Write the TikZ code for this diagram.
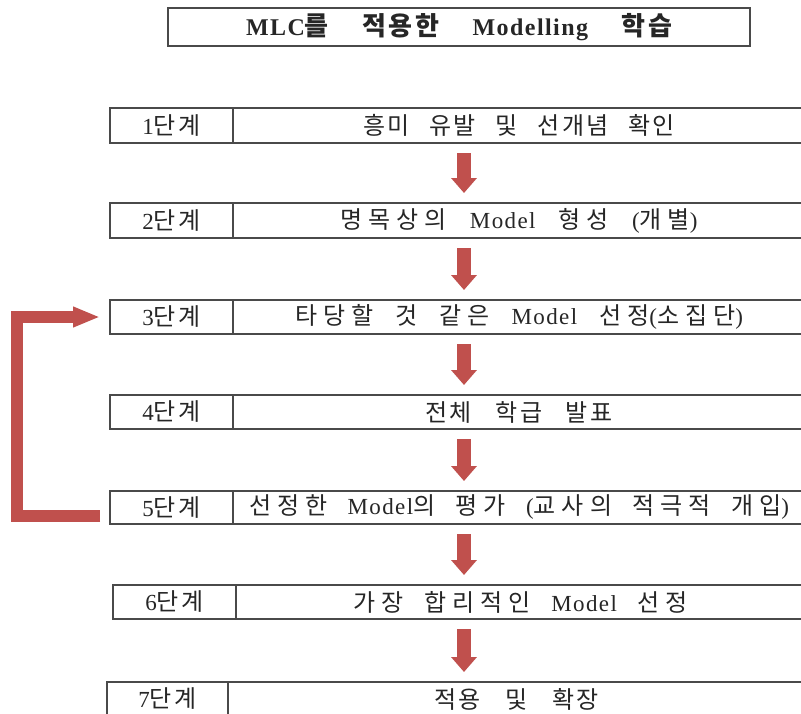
\documentclass[tikz,border=0pt]{standalone}
\usepackage{fontspec}
\setmainfont{Liberation Serif}[LetterSpace=6]
\newfontfamily\krfont{Noto Sans CJK KR}[LetterSpace=10]
\newfontfamily\krwide{Noto Sans CJK KR}[LetterSpace=25]
\def\krsz{24}
\newcommand{\K}[1]{{\krfont\fontsize{\krsz}{27}\selectfont #1}}
\newcommand{\W}[1]{{\krwide\fontsize{\krsz}{27}\selectfont #1}}
\newcommand{\spread}[2]{\spaceskip=12pt plus 80pt\relax\makebox[#1][s]{#2}}
\usetikzlibrary{arrows.meta,calc}
\definecolor{accred}{HTML}{C0504D}
\definecolor{boxline}{HTML}{4A4A4A}
\tikzset{
  stagebox/.style={draw=boxline, line width=1.2pt, inner sep=0pt, outer sep=0pt,
    anchor=north west, text=black!85,
    font=\fontsize{23}{26}\selectfont},
  downarrow/.style={draw=accred, line width=14pt,
    -{Triangle[length=15pt,width=25pt]}, shorten <=10pt, shorten >=10pt},
  looparrow/.style={draw=accred, line width=12pt, line join=miter,
    -{Triangle[length=27pt,width=19pt]}},
}
% #1 id, #2 left, #3 divider, #4 top, #5 bottom, #6 label, #7 text width, #8 text
\newcommand{\stage}[8]{%
  \node[stagebox, minimum width={#3-#2}, minimum height={#5-#4}] (l#1) at (#2,#4) {#6};
  \node[stagebox, minimum width={805-#3}, minimum height={#5-#4}] (s#1) at (#3,#4) {\spread{#7}{#8}};}
\begin{document}
\begin{tikzpicture}[x=1pt,y=-1pt]
\useasboundingbox[fill=white] (0,0) rectangle (801,713);
% title
\node[stagebox, minimum width=582pt, minimum height=38pt,
  font=\bfseries\fontsize{24}{27}\selectfont] (title) at (168,8)
  {\def\krsz{26}\spread{426pt}{MLC\K{를} \K{적용한} Modelling \K{학습}}};
\stage{1}{110}{233}{108}{143}{1\K{단계}}{312pt}{\K{흥미 유발 및 선개념 확인}}
\stage{2}{110}{233}{203}{238}{2\K{단계}}{357pt}{\W{명목상의} Model \W{형성} (\W{개별})}
\stage{3}{110}{233}{300}{334}{3\K{단계}}{448pt}{\W{타당할 것 같은} Model \W{선정}(\W{소집단})}
\stage{4}{110}{233}{395}{429}{4\K{단계}}{187pt}{\K{전체 학급 발표}}
\stage{5}{110}{233}{491}{524}{5\K{단계}}{540pt}{\W{선정한} Model\W{의 평가} (\W{교사의 적극적 개입})}
\stage{6}{113}{236}{585}{619}{6\K{단계}}{335pt}{\W{가장 합리적인} Model \W{선정}}
\stage{7}{107}{228}{682}{716}{7\K{단계}}{165pt}{\K{적용 및 확장}}
\coordinate (ax) at (464,0);
\foreach \a/\b in {1/2,2/3,3/4,4/5,5/6,6/7}
  \draw[downarrow] (s\a.south -| ax) -- (s\b.north -| ax);
\coordinate (lx) at (17,0);
\draw[looparrow] ([xshift=-10pt,yshift=-8pt]l5.west) -| (lx |- l3.west) -- ([xshift=-10pt]l3.west);
\end{tikzpicture}
\end{document}
